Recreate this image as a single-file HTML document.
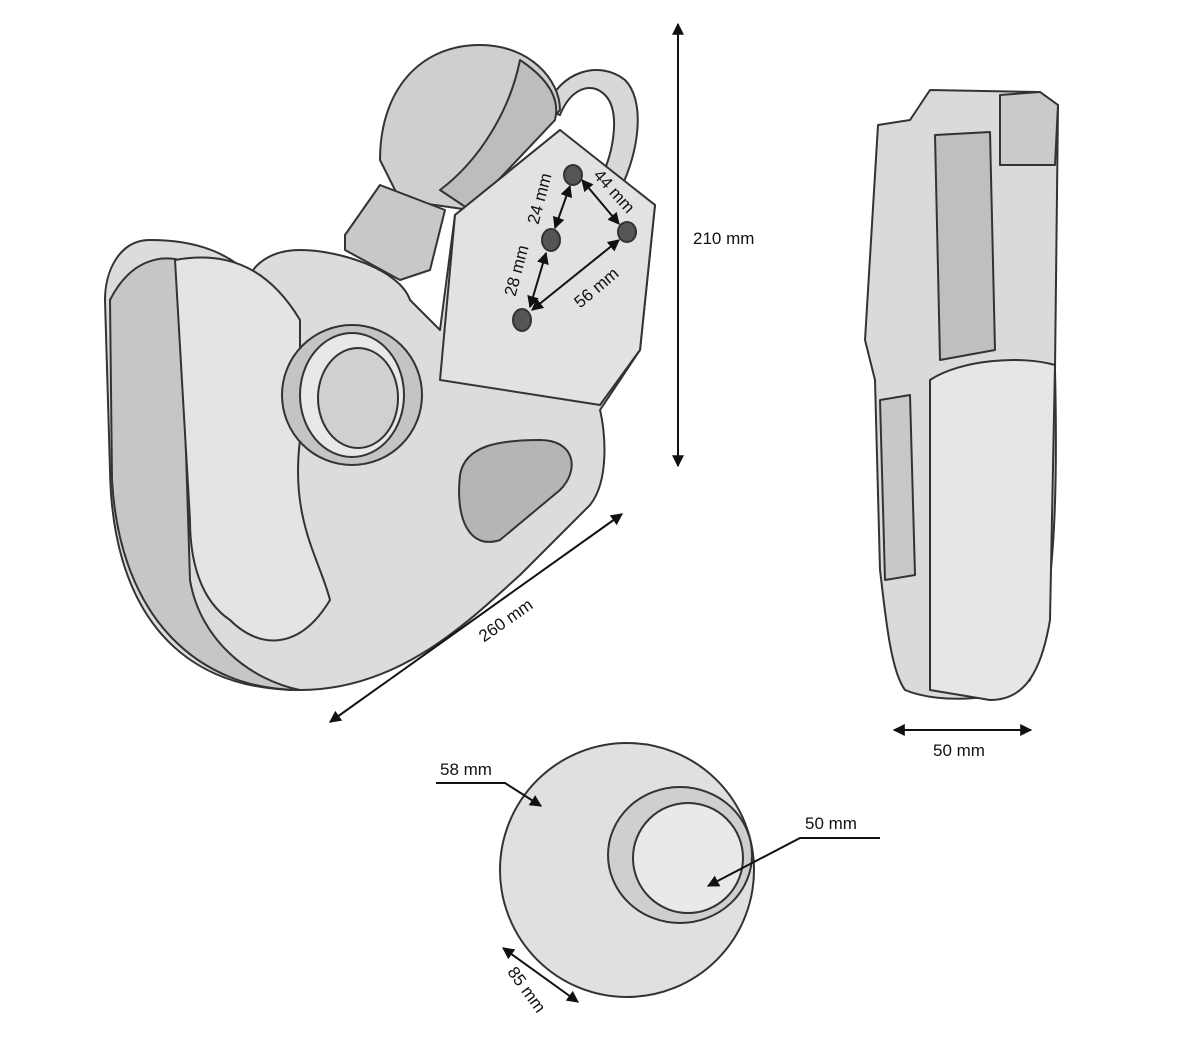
<!DOCTYPE html>
<html><head><style>
html,body{margin:0;padding:0;background:#fff;width:1200px;height:1045px;overflow:hidden}
svg{display:block}
text{font-family:"Liberation Sans",Arial,sans-serif;font-size:17px;fill:#111}
</style></head><body>
<svg width="1200" height="1045" viewBox="0 0 1200 1045" xmlns="http://www.w3.org/2000/svg">
<defs>
<marker id="a" viewBox="0 0 10 10" refX="9" refY="5" markerWidth="6" markerHeight="6" orient="auto-start-reverse"><path d="M0,0L10,5L0,10z" fill="#111"/></marker>
</defs>
<g stroke="#333" stroke-width="2" stroke-linejoin="round">
<!-- ring -->
<path d="M545,110 C560,70 600,60 625,80 C645,100 640,150 620,190 L600,180 C615,150 620,110 605,95 C590,80 570,90 560,115 Z" fill="#d8d8d8"/>
<!-- top cylinder -->
<path d="M380,160 C380,90 420,45 480,45 C530,45 560,80 560,110 L470,210 L400,200 Z" fill="#cfcfcf"/>
<path d="M520,60 C550,80 560,100 555,120 L470,210 L440,190 C480,160 510,110 520,60 Z" fill="#bdbdbd"/>
<!-- hook body -->
<path d="M150,240 C120,240 105,270 105,300 L110,470 C112,600 170,690 300,690 C400,690 470,620 520,575 L590,505 C610,480 605,430 600,410 L640,350 L655,205 L590,160 L560,130 L455,215 L440,330 L410,300 C400,270 340,250 300,250 C270,250 255,265 250,275 C230,255 200,240 150,240 Z" fill="#dcdcdc"/>
<path d="M110,300 C130,260 160,255 180,260 L190,580 C200,640 250,680 300,690 C200,690 120,620 112,480 Z" fill="#c6c6c6"/>
<path d="M175,260 C230,250 270,270 300,320 L300,440 C290,520 320,560 330,600 C300,650 260,650 230,620 C200,600 190,560 190,520 Z" fill="#e4e4e4"/>
<!-- plate -->
<path d="M455,215 L560,130 L655,205 L640,350 L600,405 L440,380 Z" fill="#e2e2e2"/>
<!-- latch -->
<path d="M345,235 L380,185 L445,210 L430,270 L400,280 L345,250 Z" fill="#c8c8c8"/>
<!-- ball in hook -->
<circle cx="352" cy="395" r="70" fill="#c4c4c4"/>
<ellipse cx="352" cy="395" rx="52" ry="62" fill="#e8e8e8"/>
<ellipse cx="358" cy="398" rx="40" ry="50" fill="#d0d0d0"/>
<!-- slot -->
<path d="M460,475 C465,445 500,440 540,440 C575,440 580,470 560,490 L500,540 C470,550 455,520 460,475 Z" fill="#b5b5b5"/>
<!-- holes -->
<g fill="#555"><ellipse cx="573" cy="175" rx="9" ry="10"/><ellipse cx="627" cy="232" rx="9" ry="10"/><ellipse cx="551" cy="240" rx="9" ry="11"/><ellipse cx="522" cy="320" rx="9" ry="11"/></g>
<!-- side view -->
<path d="M878,125 L910,120 L930,90 L1040,92 L1058,105 L1055,370 C1058,500 1055,600 1030,680 C1010,700 940,705 905,690 C890,670 885,610 880,570 L875,380 L865,340 Z" fill="#dadada"/>
<path d="M935,135 L990,132 L995,350 L940,360 Z" fill="#bfbfbf"/>
<path d="M930,380 C960,360 1020,355 1055,365 L1050,620 C1040,680 1020,700 990,700 L930,690 Z" fill="#e6e6e6"/>
<path d="M880,400 L910,395 L915,575 L885,580 Z" fill="#c8c8c8"/>
<path d="M1000,95 L1040,92 L1058,105 L1055,165 L1000,165 Z" fill="#cacaca"/>
<!-- ball -->
<circle cx="627" cy="870" r="127" fill="#e0e0e0"/>
<ellipse cx="680" cy="855" rx="72" ry="68" fill="#cfcfcf"/>
<ellipse cx="688" cy="858" rx="55" ry="55" fill="#e9e9e9"/>
</g>
<!-- dimensions -->
<g stroke="#111" stroke-width="2" fill="none">
<line x1="678" y1="24" x2="678" y2="466" marker-start="url(#a)" marker-end="url(#a)"/>
<line x1="330" y1="722" x2="622" y2="514" marker-start="url(#a)" marker-end="url(#a)"/>
<line x1="894" y1="730" x2="1031" y2="730" marker-start="url(#a)" marker-end="url(#a)"/>
<line x1="503" y1="948" x2="578" y2="1002" marker-start="url(#a)" marker-end="url(#a)"/>
<polyline points="436,783 505,783 541,806" marker-end="url(#a)"/>
<polyline points="880,838 800,838 708,886" marker-end="url(#a)"/>
<line x1="570" y1="186" x2="555" y2="228" marker-start="url(#a)" marker-end="url(#a)"/>
<line x1="582" y1="180" x2="619" y2="224" marker-start="url(#a)" marker-end="url(#a)"/>
<line x1="546" y1="253" x2="530" y2="307" marker-start="url(#a)" marker-end="url(#a)"/>
<line x1="619" y1="240" x2="532" y2="310" marker-start="url(#a)" marker-end="url(#a)"/>
</g>
<text x="693" y="244">210 mm</text>
<text x="933" y="756">50 mm</text>
<text x="440" y="775">58 mm</text>
<text x="805" y="829">50 mm</text>
<text transform="translate(509,625) rotate(-35)" text-anchor="middle">260 mm</text>
<text transform="translate(522,993) rotate(54)" text-anchor="middle">85 mm</text>
<text transform="translate(545,200) rotate(-75)" text-anchor="middle">24 mm</text>
<text transform="translate(522,272) rotate(-75)" text-anchor="middle">28 mm</text>
<text transform="translate(610,195) rotate(48)" text-anchor="middle">44 mm</text>
<text transform="translate(600,292) rotate(-40)" text-anchor="middle">56 mm</text>
</svg>
</body></html>
